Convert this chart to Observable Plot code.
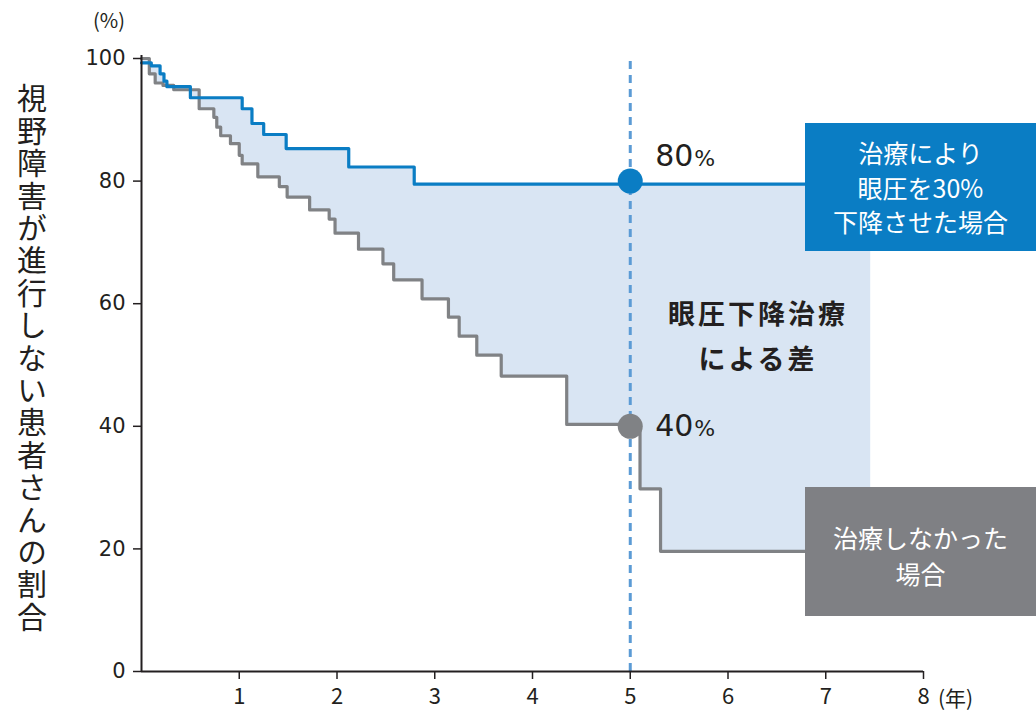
<!DOCTYPE html>
<html><head><meta charset="utf-8">
<script src="https://cdn.jsdelivr.net/npm/d3@7"></script>
<script src="https://cdn.jsdelivr.net/npm/@observablehq/plot@0.6"></script>
<style>
body{margin:0;background:#fff;}
#wrap{position:relative;width:1036px;height:716px;overflow:hidden;font-family:"Noto Sans CJK JP",sans-serif;color:#231f20;}
#chart{position:absolute;left:0;top:0;}
.box{position:absolute;left:805px;width:231px;color:#fff;text-align:center;font-size:25px;display:flex;flex-direction:column;justify-content:center;align-items:center;}
#boxBlue{top:123px;height:128px;background:#0a7dc4;line-height:34.5px;}
#boxGray{top:487px;height:129px;background:#7f8084;line-height:36px;padding-top:7px;box-sizing:border-box;}
#diffLabel{position:absolute;left:638px;width:240px;top:290px;text-align:center;font-size:27px;font-weight:bold;line-height:45px;letter-spacing:3px;}
#ylab{position:absolute;left:16px;top:83px;writing-mode:vertical-rl;font-size:30px;letter-spacing:2.4px;line-height:32px;}
#pct{position:absolute;left:93px;top:5px;font-size:20px;}
#yr{position:absolute;left:938px;top:682px;font-size:21px;}
</style></head><body>
<div id="wrap">
  <div id="chart"></div>
  <div id="ylab"></div>
  <div id="pct"></div>
  <div id="yr"></div>
  <div id="diffLabel"></div>
  <div class="box" id="boxBlue"></div>
  <div class="box" id="boxGray"></div>
</div>
<script>
// ---- data ----
const blueYears  = [0, 0.10, 0.19, 0.23, 0.26, 0.50, 1.03, 1.13, 1.25, 1.48, 2.12, 2.79, 7.46];
const blueValues = [99.3, 98.8, 97.5, 96.3, 95.4, 93.6, 91.8, 89.4, 87.6, 85.3, 82.3, 79.5, 79.5];
const grayYears  = [0, 0.08, 0.14, 0.22, 0.33, 0.59, 0.74, 0.77, 0.81, 0.91, 1.00, 1.03, 1.19, 1.41, 1.49, 1.72, 1.92, 1.98, 2.22, 2.47, 2.58, 2.87, 3.14, 3.25, 3.43, 3.68, 4.35, 5.10, 5.31, 7.46];
const grayValues = [100, 97.5, 96.0, 95.6, 94.9, 91.8, 90.4, 88.8, 87.4, 86.1, 84.2, 82.8, 80.7, 79.1, 77.4, 75.3, 73.8, 71.5, 68.9, 66.5, 63.9, 60.8, 57.8, 54.7, 51.6, 48.2, 40.3, 29.8, 19.6, 19.6];
const markYear = 5;
const markValues = [80, 40];
const xTicks = [1, 2, 3, 4, 5, 6, 7, 8];
const yTicks = [0, 20, 40, 60, 80, 100];
const yLabel = "視野障害が進行しない患者さんの割合";
const yUnit = "(%)";
const xUnit = "(年)";
const blueBoxLines = ["治療により", "眼圧を30%", "下降させた場合"];
const grayBoxLines = ["治療しなかった", "場合"];
const diffLines = ["眼圧下降治療", "による差"];

// ---- styling ----
const BLUE = "#0a7dc4", GRAY = "#808285", FILL = "#d9e5f3", DASH = "#5b9bd5", INK = "#231f20";

const blue = blueYears.map((t, i) => ({t, v: blueValues[i]}));
const gray = grayYears.map((t, i) => ({t, v: grayValues[i]}));
const stepAt = (ts, vs, x) => { let v = vs[0]; for (let i = 0; i < ts.length; i++) if (ts[i] <= x) v = vs[i]; return v; };
const allT = Array.from(new Set([...blueYears, ...grayYears])).sort((a, b) => a - b);
const band = allT.map(x => ({t: x, lo: stepAt(grayYears, grayValues, x), hi: stepAt(blueYears, blueValues, x)}));
const markBlue = [{t: markYear, v: markValues[0]}];
const markGray = [{t: markYear, v: markValues[1]}];

function labelMarks(data, dy) {
  return [
    Plot.text(data, {x: "t", y: "v", text: d => String(d.v), dx: 25, dy, textAnchor: "start", fontSize: 30, fontFamily: "DejaVu Sans", fill: INK}),
    Plot.text(data, {x: "t", y: "v", text: () => "%", dx: 64, dy: dy + 3, textAnchor: "start", fontSize: 22, fontFamily: "DejaVu Sans", fill: INK})
  ];
}

const chart = Plot.plot({
  width: 1036, height: 716,
  marginLeft: 141, marginRight: 113, marginTop: 58, marginBottom: 45,
  x: {domain: [0, 8]},
  y: {domain: [0, 100]},
  style: {fontFamily: "'Noto Sans CJK JP', sans-serif", color: INK, background: "transparent", overflow: "visible"},
  marks: [
    Plot.areaY(band, {x: "t", y1: "lo", y2: "hi", curve: "step-after", fill: FILL}),
    Plot.line(gray, {x: "t", y: "v", curve: "step-after", stroke: GRAY, strokeWidth: 3.2}),
    Plot.line(blue, {x: "t", y: "v", curve: "step-after", stroke: BLUE, strokeWidth: 3.2}),
    Plot.ruleX([markYear], {y1: 0, y2: 99.5, stroke: DASH, strokeWidth: 3, strokeDasharray: "8,6"}),
    Plot.dot(markBlue, {x: "t", y: "v", r: 12.5, fill: BLUE}),
    Plot.dot(markGray, {x: "t", y: "v", r: 12.5, fill: GRAY}),
    ...labelMarks(markBlue, -25),
    ...labelMarks(markGray, 0),
    Plot.ruleX([0], {y1: 0, y2: 100.5, stroke: INK, strokeWidth: 2}),
    Plot.ruleY([0], {x1: 0, x2: 8, stroke: INK, strokeWidth: 2}),
    Plot.axisY({ticks: yTicks, tickSize: 8, tickPadding: 8, fontSize: 21, fontFamily: "DejaVu Sans", strokeWidth: 1.5, label: null}),
    Plot.axisX({ticks: xTicks, tickSize: 8, tickPadding: 9, fontSize: 22, strokeWidth: 1.5, label: null})
  ]
});
document.getElementById("chart").appendChild(chart);

document.getElementById("ylab").textContent = yLabel;
document.getElementById("pct").textContent = yUnit;
document.getElementById("yr").textContent = xUnit;
document.getElementById("diffLabel").innerHTML = diffLines.join("<br>");
document.getElementById("boxBlue").innerHTML = blueBoxLines.map(s => `<div>${s}</div>`).join("");
document.getElementById("boxGray").innerHTML = grayBoxLines.map(s => `<div>${s}</div>`).join("");
</script>
</body></html>
